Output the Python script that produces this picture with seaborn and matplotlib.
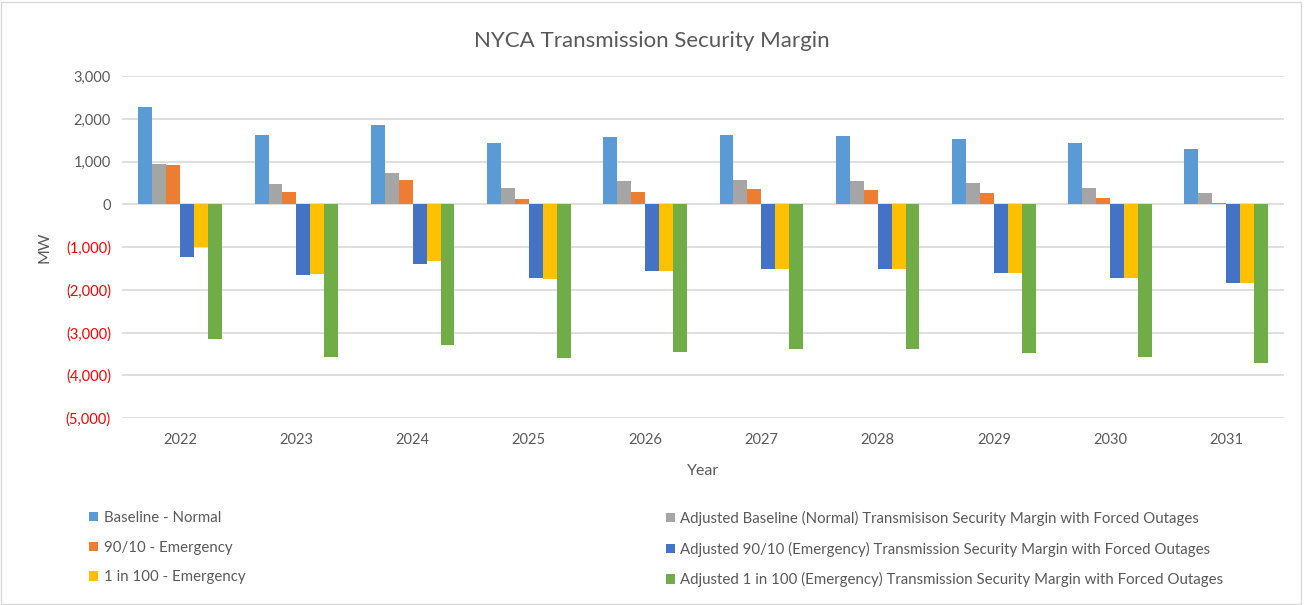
import pandas as pd
import numpy as np
import matplotlib
matplotlib.use("Agg")
import matplotlib.pyplot as plt
import matplotlib.patches as mpatches
from matplotlib.ticker import FuncFormatter, MultipleLocator
import seaborn as sns

# Data (MW)
years = ["2022", "2023", "2024", "2025", "2026", "2027", "2028", "2029", "2030", "2031"]
baseline_normal = [2290, 1617, 1867, 1430, 1570, 1617, 1594, 1531, 1430, 1305]
adj_baseline = [945, 484, 742, 383, 539, 570, 555, 492, 383, 258]
emergency_90_10 = [922, 281, 562, 133, 281, 352, 328, 258, 141, 31]
adj_90_10 = [-1227, -1648, -1383, -1719, -1570, -1508, -1523, -1594, -1719, -1836]
emergency_1_in_100 = [-1008, -1625, -1320, -1742, -1570, -1508, -1523, -1594, -1719, -1836]
adj_1_in_100 = [-3156, -3570, -3281, -3594, -3453, -3383, -3383, -3469, -3570, -3720]

series_names = [
    "Baseline - Normal",
    "Adjusted Baseline (Normal) Transmisison Security Margin with Forced Outages",
    "90/10 - Emergency",
    "Adjusted 90/10 (Emergency) Transmission Security Margin with Forced Outages",
    "1 in 100 - Emergency",
    "Adjusted 1 in 100 (Emergency) Transmission Security Margin with Forced Outages",
]
series_values = [baseline_normal, adj_baseline, emergency_90_10,
                 adj_90_10, emergency_1_in_100, adj_1_in_100]
colors = ["#5B9BD5", "#A5A5A5", "#ED7D31", "#4472C4", "#FFC000", "#70AD47"]

rows = []
for name, vals in zip(series_names, series_values):
    for yr, v in zip(years, vals):
        rows.append({"Year": yr, "Series": name, "MW": v})
df = pd.DataFrame(rows)

sns.set_style("white")
plt.rcParams["font.family"] = ["Lato", "DejaVu Sans"]

fig = plt.figure(figsize=(13.04, 6.05), dpi=100)
ax = fig.add_axes([0.0936, 0.309, 0.8914, 0.565])

sns.barplot(data=df, x="Year", y="MW", hue="Series", hue_order=series_names,
            palette=colors, width=0.72, ax=ax, saturation=1, linewidth=0,
            legend=True)

handles, labels = ax.get_legend_handles_labels()
ax.get_legend().remove()

# Axis styling
ax.set_ylim(-5000, 3000)
ax.set_xlim(-0.5, 9.5)
ax.yaxis.set_major_locator(MultipleLocator(1000))
ax.yaxis.set_major_formatter(FuncFormatter(
    lambda v, p: f"{v:,.0f}" if v >= 0 else f"({-v:,.0f})"))
ax.grid(axis="y", color="#D9D9D9", linewidth=1.2)
ax.set_axisbelow(True)
for s in ax.spines.values():
    s.set_visible(False)
ax.tick_params(axis="both", length=0, labelsize=10.5, colors="#595959")
ax.tick_params(axis="x", pad=11)
ax.tick_params(axis="y", pad=8)
for lbl, val in zip(ax.get_yticklabels(), ax.get_yticks()):
    if val < 0:
        lbl.set_color("#FF0000")

ax.set_xlabel("Year", fontsize=11.5, color="#595959", labelpad=12)
ax.set_ylabel("MW", fontsize=11.5, color="#595959", labelpad=10)
fig.text(0.5, 0.932, "NYCA Transmission Security Margin", ha="center",
         va="center", fontsize=16, color="#595959")

# Legend: two columns, laid out like the Excel chart
left = [handles[i] for i in (0, 2, 4)]
left_lbl = [labels[i] for i in (0, 2, 4)]
right = [handles[i] for i in (1, 3, 5)]
right_lbl = [labels[i] for i in (1, 3, 5)]
leg_kw = dict(frameon=False, fontsize=10.8, handlelength=0.6, handleheight=0.6,
              handletextpad=0.4, labelspacing=1.05, labelcolor="#595959")
fig.legend(left, left_lbl, loc="upper left",
           bbox_to_anchor=(0.058, 0.178), **leg_kw)
fig.legend(right, right_lbl, loc="upper left",
           bbox_to_anchor=(0.5, 0.178), **leg_kw)

# Light border around the chart area
fig.patches.append(mpatches.Rectangle((0.001, 0.002), 0.997, 0.995,
                                      transform=fig.transFigure, fill=False,
                                      edgecolor="#D9D9D9", linewidth=1))

fig.savefig("out.png", dpi=100)
